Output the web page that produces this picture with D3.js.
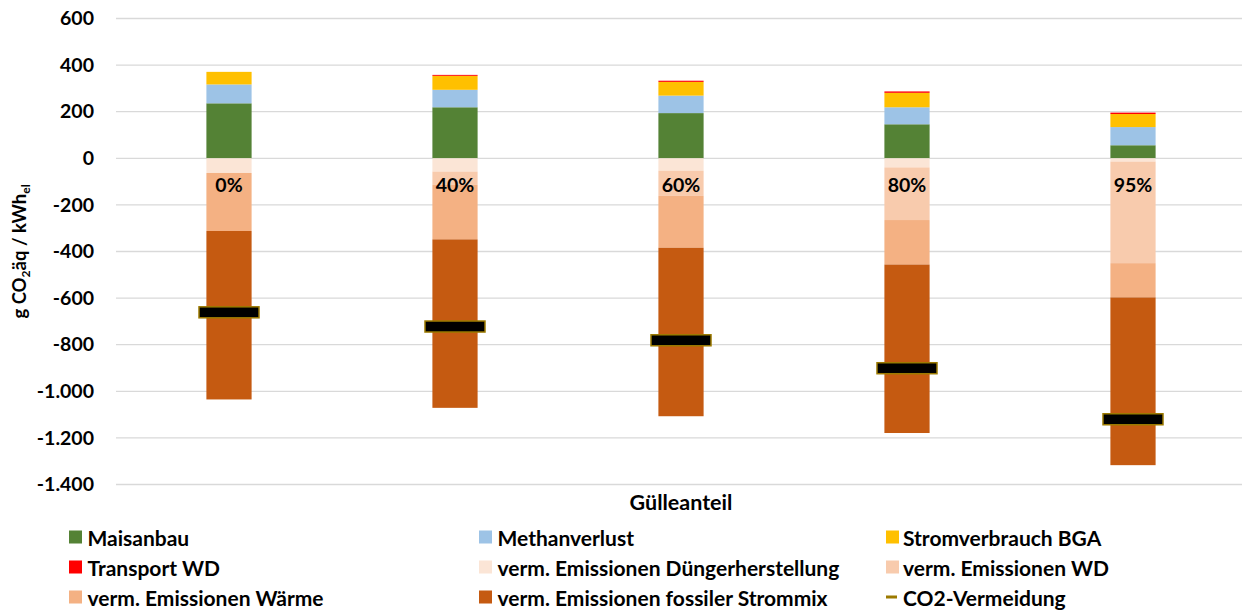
<!DOCTYPE html>
<html>
<head>
<meta charset="utf-8">
<script src="https://cdn.jsdelivr.net/npm/d3@7"></script>
<style>
  html, body { margin: 0; padding: 0; background: #fff; }
  svg { display: block; font-family: Lato, "Open Sans", sans-serif; font-weight: bold; }
</style>
</head>
<body>
<svg id="chart" width="1242" height="612"></svg>
<script>
// ---- data ----
const categories = ["0%", "40%", "60%", "80%", "95%"];
const maisanbau      = [236, 219, 194, 146, 56];
const methanverlust  = [81, 75, 75, 73, 78];
const stromverbrauch = [54, 60, 59, 62, 56];
const transportWD    = [0, 4, 5, 6, 6];
const duengerherst   = [-63, -57, -53, -39, -14];
const emissionenWD   = [0, -57, -108, -226, -436];
const waerme         = [-249, -234, -223, -191, -147];
const strommix       = [-723, -723, -723, -723, -720];
const co2Vermeidung  = [-661, -722, -781, -901, -1120];
const yTicks = [-1400, -1200, -1000, -800, -600, -400, -200, 0, 200, 400, 600];

const seriesNames = ["Maisanbau", "Methanverlust", "Stromverbrauch BGA", "Transport WD",
  "verm. Emissionen Düngerherstellung", "verm. Emissionen WD", "verm. Emissionen Wärme",
  "verm. Emissionen fossiler Strommix"];
const seriesValues = [maisanbau, methanverlust, stromverbrauch, transportWD,
  duengerherst, emissionenWD, waerme, strommix];
const seriesColors = ["#548235", "#9DC3E6", "#FFC000", "#FF0000",
  "#FBE5D6", "#F8CBAD", "#F4B183", "#C55A11"];

const table = categories.map((c, i) => {
  const row = { cat: c };
  seriesNames.forEach((s, j) => row[s] = seriesValues[j][i]);
  return row;
});

// ---- layout ----
const svg = d3.select("#chart");
const plot = { left: 116, right: 1246, top: 18.5, bottom: 484.5 };

const x = d3.scaleBand().domain(categories).range([plot.left, plot.right]).paddingInner(0.8).paddingOuter(0.4);
const y = d3.scaleLinear().domain([-1400, 600]).range([plot.bottom, plot.top]);

const locale = d3.formatLocale({ decimal: ",", thousands: ".", grouping: [3], currency: ["", "€"], minus: "-" });
const fmt = locale.format(",d");

// gridlines
svg.append("g")
  .selectAll("line").data(yTicks).join("line")
  .attr("x1", plot.left).attr("x2", 1242)
  .attr("y1", d => y(d)).attr("y2", d => y(d))
  .attr("stroke", "#d9d9d9").attr("stroke-width", 1.3);

// y axis labels
const yAxis = svg.append("g")
  .attr("transform", `translate(${plot.left - 22},0)`)
  .call(d3.axisLeft(y).tickValues(yTicks).tickFormat(fmt).tickSize(0).tickPadding(0));
yAxis.select(".domain").remove();
yAxis.selectAll("text").attr("font-size", 19.5).attr("font-weight", "bold")
  .attr("font-family", "Lato, sans-serif").attr("fill", "#000");

// stacked bars
const stack = d3.stack().keys(seriesNames).offset(d3.stackOffsetDiverging);
const stacked = stack(table);

svg.append("g").selectAll("g").data(stacked).join("g")
  .attr("fill", (d, i) => seriesColors[i])
  .selectAll("rect").data(d => d).join("rect")
  .attr("x", d => x(d.data.cat))
  .attr("width", x.bandwidth())
  .attr("y", d => y(Math.max(d[0], d[1])))
  .attr("height", d => Math.abs(y(d[0]) - y(d[1])));

// category axis at zero line
const xAxis = svg.append("g")
  .attr("transform", `translate(0,${y(0)})`)
  .call(d3.axisBottom(x).tickSize(0).tickPadding(20));
xAxis.select(".domain").remove();
xAxis.selectAll("text").attr("font-size", 19.5).attr("font-weight", "bold")
  .attr("font-family", "Lato, sans-serif").attr("fill", "#000");

// CO2-Vermeidung markers
const markerW = 60, markerH = 11;
svg.append("g").selectAll("rect").data(co2Vermeidung).join("rect")
  .attr("x", (d, i) => x(categories[i]) + x.bandwidth() / 2 - markerW / 2)
  .attr("y", d => y(d) - markerH / 2)
  .attr("width", markerW).attr("height", markerH)
  .attr("fill", "#000").attr("stroke", "#9C7A00").attr("stroke-width", 1.5);

// axis titles
svg.append("text")
  .attr("x", (plot.left + plot.right) / 2).attr("y", 502)
  .attr("text-anchor", "middle").attr("dominant-baseline", "central")
  .attr("font-size", 21.5).text("Gülleanteil");

const yt = svg.append("text")
  .attr("transform", `translate(26,${(plot.top + plot.bottom) / 2}) rotate(-90)`)
  .attr("text-anchor", "middle").attr("font-size", 18.5);
yt.append("tspan").text("g CO");
yt.append("tspan").text("2").attr("font-size", 12).attr("dy", 4);
yt.append("tspan").text("äq / kWh").attr("dy", -4);
yt.append("tspan").text("el").attr("font-size", 12).attr("dy", 4);

// legend
const legendItems = seriesNames.map((n, i) => ({ name: n, color: seriesColors[i], type: "rect" }))
  .concat([{ name: "CO2-Vermeidung", color: "#9C7A00", type: "line" }]);
const colX = [69, 479, 886];
const rowY = [537, 567, 597];
const lg = svg.append("g").selectAll("g").data(legendItems).join("g")
  .attr("transform", (d, i) => `translate(${colX[i % 3]},${rowY[Math.floor(i / 3)]})`);
lg.filter(d => d.type === "rect").append("rect")
  .attr("x", 0).attr("y", -6.5).attr("width", 13).attr("height", 13).attr("fill", d => d.color);
lg.filter(d => d.type === "line").append("rect")
  .attr("x", 0).attr("y", -1.5).attr("width", 11).attr("height", 3).attr("fill", d => d.color);
lg.append("text")
  .attr("x", (d, i) => i % 3 === 2 ? 17 : 18.5).attr("y", 0)
  .attr("dominant-baseline", "central").attr("font-size", 21)
  .text(d => d.name);
</script>
</body>
</html>
